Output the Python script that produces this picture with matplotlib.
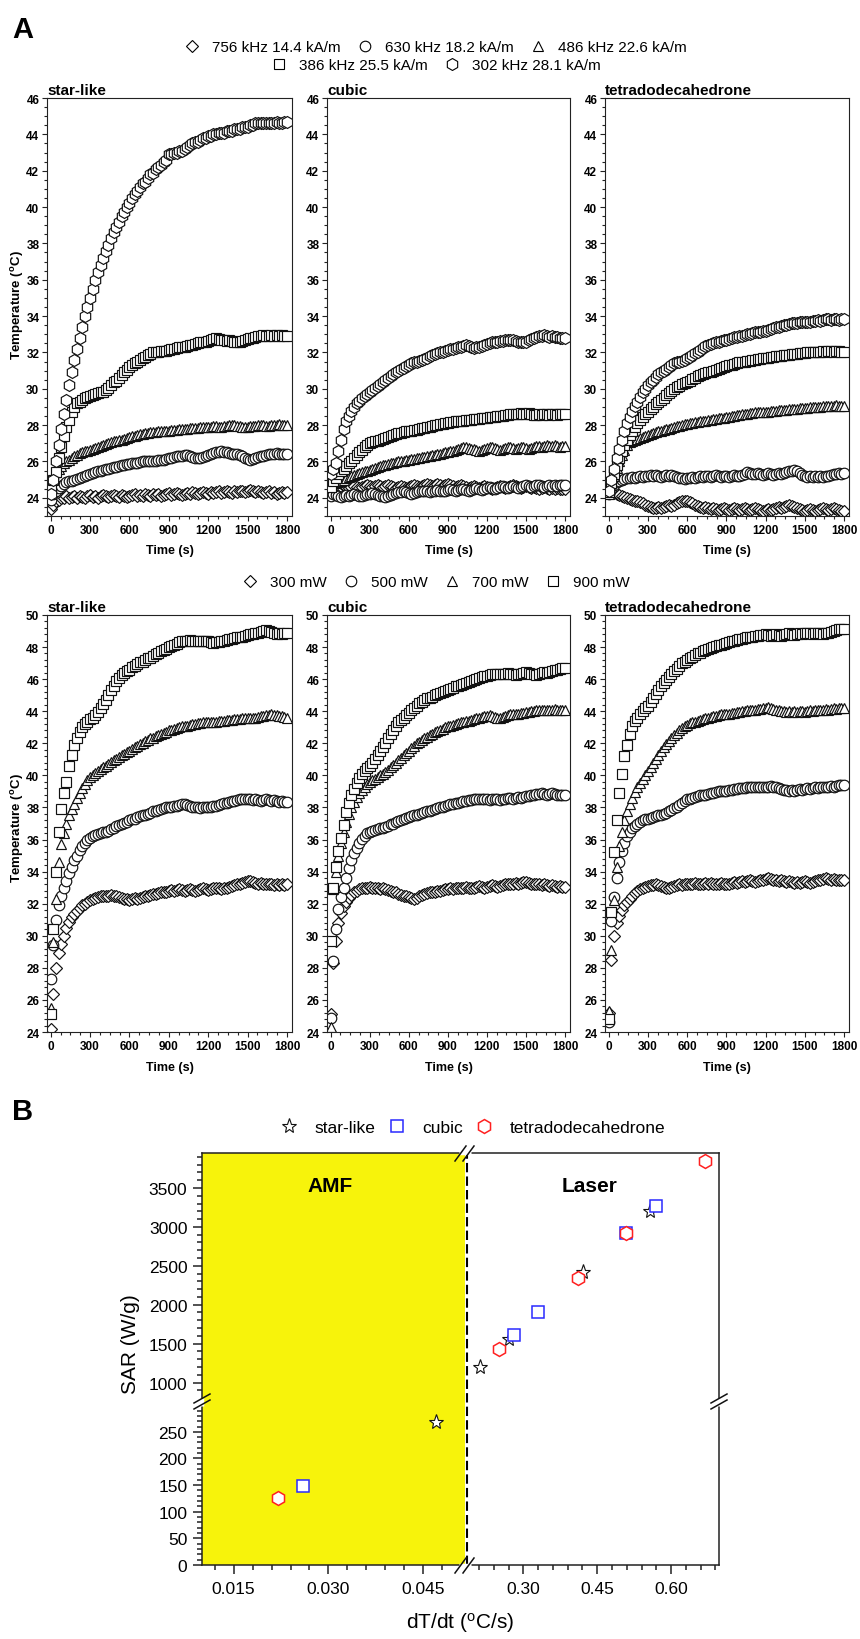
import numpy as np
import matplotlib
matplotlib.use("Agg")
import matplotlib.pyplot as plt
from matplotlib.lines import Line2D
from matplotlib.ticker import FixedLocator, MultipleLocator

plt.rcParams["font.family"] = ["Liberation Sans", "DejaVu Sans"]
plt.rcParams["mathtext.fontset"] = "custom"
plt.rcParams["mathtext.rm"] = "Liberation Sans"
plt.rcParams["mathtext.bf"] = "Liberation Sans:bold"
plt.rcParams["mathtext.it"] = "Liberation Sans:italic"

# ---------------------------------------------------------------- data
time_s = list(range(0, 1801, 20))

amf_labels = ["756 kHz 14.4 kA/m", "630 kHz 18.2 kA/m", "486 kHz 22.6 kA/m",
              "386 kHz 25.5 kA/m", "302 kHz 28.1 kA/m"]
laser_labels = ["300 mW", "500 mW", "700 mW", "900 mW"]
shapes = ["star-like", "cubic", "tetradodecahedrone"]

# AMF heating, star-like
amf_star_756 = [23.4, 23.6, 23.8, 23.9, 24.0, 24.0, 24.1, 24.0, 24.05, 24.1,
                24.0, 24.1, 24.05, 24.0, 24.1, 24.15, 24.05, 24.1, 24.0, 24.1,
                24.15, 24.1, 24.05, 24.1, 24.15, 24.1, 24.05, 24.15, 24.1, 24.05,
                24.1, 24.15, 24.2, 24.1, 24.15, 24.1, 24.2, 24.15, 24.1, 24.2,
                24.15, 24.2, 24.1, 24.15, 24.2, 24.25, 24.15, 24.2, 24.25, 24.2,
                24.15, 24.2, 24.25, 24.2, 24.3, 24.25, 24.2, 24.25, 24.3, 24.25,
                24.2, 24.3, 24.25, 24.3, 24.35, 24.25, 24.3, 24.35, 24.3, 24.25,
                24.35, 24.3, 24.4, 24.35, 24.3, 24.4, 24.45, 24.35, 24.3, 24.35,
                24.3, 24.25, 24.3, 24.35, 24.25, 24.3, 24.2, 24.25, 24.3, 24.25,
                24.3]
amf_star_630 = [23.9, 24.2, 24.4, 24.55, 24.65, 24.75, 24.85, 24.9, 24.95, 25.0,
                25.05, 25.1, 25.15, 25.2, 25.25, 25.3, 25.35, 25.4, 25.45, 25.5,
                25.55, 25.6, 25.6, 25.65, 25.7, 25.7, 25.75, 25.8, 25.8, 25.85,
                25.85, 25.9, 25.9, 25.9, 25.95, 26.0, 26.0, 26.0, 26.0, 26.05,
                26.05, 26.1, 26.1, 26.1, 26.15, 26.2, 26.2, 26.25, 26.3, 26.3,
                26.3, 26.35, 26.35, 26.3, 26.25, 26.2, 26.2, 26.2, 26.25, 26.3,
                26.35, 26.4, 26.45, 26.5, 26.5, 26.55, 26.5, 26.5, 26.45, 26.4,
                26.4, 26.4, 26.35, 26.3, 26.2, 26.15, 26.1, 26.15, 26.2, 26.25,
                26.3, 26.3, 26.35, 26.4, 26.4, 26.4, 26.45, 26.4, 26.4, 26.4,
                26.4]
amf_star_486 = [24.8, 25.1, 25.4, 25.6, 25.75, 25.9, 26.0, 26.1, 26.2, 26.3,
                26.35, 26.45, 26.5, 26.55, 26.6, 26.65, 26.7, 26.75, 26.8, 26.85,
                26.9, 26.95, 27.0, 27.05, 27.1, 27.15, 27.2, 27.2, 27.25, 27.3,
                27.35, 27.4, 27.4, 27.45, 27.5, 27.5, 27.55, 27.55, 27.6, 27.6,
                27.6, 27.65, 27.65, 27.7, 27.7, 27.7, 27.75, 27.75, 27.75, 27.8,
                27.8, 27.8, 27.8, 27.85, 27.85, 27.85, 27.85, 27.9, 27.9, 27.9,
                27.9, 27.9, 27.95, 27.95, 27.9, 27.9, 27.95, 27.95, 28.0, 28.0,
                28.0, 27.95, 27.95, 27.9, 27.9, 27.9, 27.95, 27.95, 27.95, 28.0,
                28.0, 28.0, 27.95, 27.95, 28.0, 28.0, 28.0, 28.05, 28.0, 28.0,
                28.0]
amf_star_386 = [24.5, 25.0, 25.4, 26.2, 26.8, 27.4, 27.9, 28.3, 28.7, 29.0,
                29.2, 29.3, 29.4, 29.5, 29.55, 29.6, 29.65, 29.7, 29.75, 29.8,
                29.85, 29.95, 30.05, 30.2, 30.35, 30.45, 30.6, 30.75, 30.9, 31.05,
                31.2, 31.3, 31.4, 31.5, 31.6, 31.7, 31.75, 31.85, 31.9, 32.0,
                32.0, 32.05, 32.1, 32.1, 32.1, 32.15, 32.2, 32.2, 32.25, 32.3,
                32.3, 32.3, 32.35, 32.4, 32.4, 32.45, 32.5, 32.55, 32.6, 32.6,
                32.65, 32.7, 32.75, 32.8, 32.75, 32.7, 32.7, 32.65, 32.7, 32.65,
                32.6, 32.6, 32.6, 32.65, 32.7, 32.75, 32.8, 32.8, 32.85, 32.9,
                32.9, 32.95, 32.9, 32.9, 32.95, 32.9, 32.95, 32.9, 32.95, 32.9,
                32.9]
amf_star_302 = [24.2, 25.0, 26.0, 26.9, 27.8, 28.6, 29.4, 30.2, 30.9, 31.6,
                32.2, 32.8, 33.4, 34.0, 34.5, 35.0, 35.5, 36.0, 36.4, 36.8,
                37.2, 37.6, 37.9, 38.3, 38.6, 38.9, 39.2, 39.5, 39.7, 40.0,
                40.2, 40.5, 40.7, 40.9, 41.1, 41.3, 41.4, 41.6, 41.8, 41.9,
                42.1, 42.2, 42.3, 42.5, 42.6, 42.9, 42.9, 43.0, 43.0, 43.1,
                43.1, 43.2, 43.3, 43.4, 43.5, 43.6, 43.6, 43.7, 43.8, 43.8,
                43.9, 43.9, 44.0, 44.0, 44.1, 44.1, 44.1, 44.2, 44.2, 44.2,
                44.3, 44.3, 44.3, 44.4, 44.4, 44.4, 44.5, 44.5, 44.6, 44.6,
                44.6, 44.6, 44.6, 44.6, 44.6, 44.6, 44.7, 44.6, 44.6, 44.7,
                44.7]

# AMF heating, cubic
amf_cub_756 = [24.6, 24.5, 24.6, 24.55, 24.6, 24.65, 24.6, 24.55, 24.6, 24.65,
               24.6, 24.55, 24.6, 24.65, 24.7, 24.65, 24.6, 24.65, 24.7, 24.65,
               24.6, 24.65, 24.7, 24.65, 24.6, 24.55, 24.6, 24.65, 24.6, 24.55,
               24.6, 24.65, 24.7, 24.65, 24.6, 24.65, 24.7, 24.75, 24.7, 24.65,
               24.7, 24.75, 24.7, 24.65, 24.7, 24.75, 24.7, 24.65, 24.6, 24.65,
               24.7, 24.65, 24.6, 24.55, 24.6, 24.65, 24.6, 24.55, 24.6, 24.65,
               24.6, 24.55, 24.5, 24.55, 24.6, 24.65, 24.6, 24.55, 24.6, 24.65,
               24.7, 24.65, 24.6, 24.55, 24.6, 24.65, 24.6, 24.55, 24.6, 24.55,
               24.5, 24.55, 24.6, 24.55, 24.5, 24.55, 24.5, 24.55, 24.5, 24.5,
               24.5]
amf_cub_630 = [24.1, 24.2, 24.15, 24.1, 24.05, 24.1, 24.15, 24.1, 24.15, 24.2,
               24.15, 24.1, 24.1, 24.15, 24.2, 24.2, 24.25, 24.2, 24.15, 24.1,
               24.1, 24.05, 24.1, 24.15, 24.2, 24.25, 24.3, 24.3, 24.35, 24.3,
               24.25, 24.2, 24.25, 24.3, 24.35, 24.4, 24.4, 24.35, 24.3, 24.35,
               24.4, 24.45, 24.4, 24.35, 24.4, 24.45, 24.5, 24.45, 24.4, 24.45,
               24.5, 24.5, 24.45, 24.4, 24.45, 24.5, 24.55, 24.5, 24.45, 24.5,
               24.55, 24.6, 24.55, 24.5, 24.55, 24.6, 24.65, 24.6, 24.55, 24.6,
               24.65, 24.6, 24.55, 24.6, 24.65, 24.7, 24.65, 24.6, 24.65, 24.7,
               24.7, 24.65, 24.6, 24.65, 24.7, 24.65, 24.7, 24.65, 24.7, 24.7,
               24.7]
amf_cub_486 = [24.6, 24.7, 24.8, 24.85, 24.95, 25.0, 25.1, 25.15, 25.2, 25.25,
               25.3, 25.35, 25.4, 25.45, 25.5, 25.55, 25.6, 25.65, 25.7, 25.75,
               25.8, 25.8, 25.85, 25.9, 25.9, 25.95, 26.0, 26.0, 26.05, 26.1,
               26.1, 26.15, 26.15, 26.2, 26.2, 26.25, 26.25, 26.3, 26.3, 26.35,
               26.35, 26.4, 26.4, 26.45, 26.5, 26.5, 26.55, 26.6, 26.65, 26.7,
               26.75, 26.8, 26.8, 26.75, 26.7, 26.7, 26.65, 26.6, 26.65, 26.7,
               26.75, 26.8, 26.8, 26.75, 26.7, 26.65, 26.7, 26.75, 26.8, 26.8,
               26.75, 26.7, 26.75, 26.8, 26.8, 26.75, 26.7, 26.75, 26.8, 26.85,
               26.85, 26.8, 26.85, 26.9, 26.85, 26.85, 26.9, 26.85, 26.8, 26.85,
               26.85]
amf_cub_386 = [24.6, 24.9, 25.1, 25.3, 25.45, 25.6, 25.75, 25.9, 26.05, 26.2,
               26.35, 26.5, 26.65, 26.8, 26.9, 27.0, 27.05, 27.1, 27.15, 27.2,
               27.25, 27.3, 27.35, 27.4, 27.45, 27.5, 27.55, 27.55, 27.6, 27.65,
               27.7, 27.7, 27.75, 27.75, 27.8, 27.85, 27.85, 27.9, 27.9, 27.95,
               28.0, 28.0, 28.05, 28.05, 28.1, 28.1, 28.15, 28.15, 28.2, 28.2,
               28.25, 28.25, 28.3, 28.3, 28.3, 28.35, 28.35, 28.35, 28.4, 28.4,
               28.4, 28.45, 28.45, 28.45, 28.5, 28.5, 28.5, 28.55, 28.55, 28.6,
               28.6, 28.6, 28.6, 28.65, 28.6, 28.6, 28.65, 28.6, 28.55, 28.55,
               28.6, 28.55, 28.6, 28.6, 28.55, 28.6, 28.6, 28.55, 28.6, 28.6,
               28.6]
amf_cub_302 = [25.3, 25.6, 25.9, 26.6, 27.2, 27.8, 28.2, 28.5, 28.8, 29.0,
               29.2, 29.35, 29.5, 29.6, 29.7, 29.85, 29.95, 30.05, 30.15, 30.25,
               30.35, 30.5, 30.6, 30.7, 30.8, 30.9, 31.0, 31.1, 31.15, 31.25,
               31.3, 31.4, 31.45, 31.5, 31.55, 31.6, 31.65, 31.7, 31.8, 31.85,
               31.9, 31.95, 32.0, 32.05, 32.1, 32.15, 32.2, 32.2, 32.25, 32.3,
               32.3, 32.35, 32.4, 32.35, 32.3, 32.25, 32.3, 32.3, 32.35, 32.4,
               32.45, 32.5, 32.55, 32.6, 32.6, 32.65, 32.65, 32.7, 32.7, 32.7,
               32.7, 32.65, 32.6, 32.6, 32.55, 32.6, 32.7, 32.75, 32.8, 32.85,
               32.9, 32.9, 32.95, 32.9, 32.85, 32.9, 32.85, 32.85, 32.8, 32.8,
               32.8]

# AMF heating, tetradodecahedrone
amf_tet_756 = [24.4, 24.3, 24.25, 24.2, 24.15, 24.1, 24.05, 24.0, 23.95, 23.9,
               23.85, 23.8, 23.75, 23.7, 23.6, 23.55, 23.5, 23.45, 23.45, 23.5,
               23.45, 23.5, 23.55, 23.6, 23.55, 23.6, 23.7, 23.75, 23.8, 23.85,
               23.8, 23.75, 23.7, 23.6, 23.55, 23.5, 23.45, 23.5, 23.45, 23.4,
               23.45, 23.4, 23.35, 23.4, 23.45, 23.4, 23.35, 23.4, 23.45, 23.4,
               23.35, 23.4, 23.45, 23.4, 23.35, 23.4, 23.45, 23.4, 23.35, 23.3,
               23.35, 23.4, 23.35, 23.4, 23.45, 23.5, 23.45, 23.5, 23.55, 23.6,
               23.55, 23.5, 23.45, 23.4, 23.35, 23.3, 23.35, 23.4, 23.35, 23.3,
               23.35, 23.4, 23.45, 23.4, 23.35, 23.4, 23.45, 23.4, 23.35, 23.3,
               23.3]
amf_tet_630 = [24.2, 24.5, 24.7, 24.85, 24.95, 25.0, 25.05, 25.1, 25.1, 25.15,
               25.1, 25.15, 25.2, 25.15, 25.2, 25.2, 25.25, 25.2, 25.25, 25.2,
               25.15, 25.2, 25.25, 25.2, 25.25, 25.2, 25.15, 25.1, 25.1, 25.05,
               25.1, 25.1, 25.15, 25.1, 25.15, 25.2, 25.15, 25.2, 25.2, 25.15,
               25.2, 25.25, 25.2, 25.15, 25.2, 25.2, 25.15, 25.2, 25.25, 25.2,
               25.2, 25.25, 25.3, 25.4, 25.35, 25.3, 25.3, 25.35, 25.3, 25.25,
               25.3, 25.35, 25.3, 25.25, 25.3, 25.35, 25.3, 25.35, 25.4, 25.45,
               25.5, 25.55, 25.5, 25.35, 25.25, 25.2, 25.15, 25.2, 25.15, 25.2,
               25.15, 25.2, 25.15, 25.2, 25.2, 25.25, 25.3, 25.3, 25.35, 25.3,
               25.35]
amf_tet_486 = [24.2, 24.7, 25.2, 25.65, 26.0, 26.35, 26.65, 26.9, 27.05, 27.15,
               27.2, 27.25, 27.3, 27.35, 27.4, 27.45, 27.5, 27.55, 27.6, 27.65,
               27.7, 27.75, 27.8, 27.8, 27.85, 27.9, 27.95, 27.95, 28.0, 28.05,
               28.05, 28.1, 28.1, 28.15, 28.15, 28.2, 28.2, 28.25, 28.3, 28.3,
               28.35, 28.35, 28.4, 28.4, 28.4, 28.45, 28.45, 28.5, 28.5, 28.55,
               28.55, 28.6, 28.6, 28.6, 28.65, 28.65, 28.7, 28.7, 28.7, 28.75,
               28.75, 28.75, 28.8, 28.8, 28.8, 28.85, 28.85, 28.85, 28.85, 28.9,
               28.9, 28.9, 28.9, 28.95, 28.95, 28.95, 28.95, 29.0, 29.0, 29.0,
               29.0, 29.0, 29.05, 29.05, 29.05, 29.05, 29.05, 29.1, 29.05, 29.05,
               29.05]
amf_tet_386 = [24.3, 24.8, 25.3, 25.8, 26.2, 26.55, 26.9, 27.2, 27.45, 27.7,
               27.9, 28.1, 28.3, 28.45, 28.6, 28.75, 28.9, 29.0, 29.15, 29.3,
               29.4, 29.5, 29.65, 29.75, 29.9, 30.0, 30.1, 30.15, 30.25, 30.3,
               30.4, 30.45, 30.55, 30.6, 30.7, 30.75, 30.8, 30.85, 30.9, 30.95,
               31.0, 31.05, 31.1, 31.15, 31.2, 31.25, 31.3, 31.3, 31.35, 31.4,
               31.45, 31.45, 31.5, 31.55, 31.55, 31.6, 31.6, 31.65, 31.65, 31.7,
               31.7, 31.7, 31.75, 31.75, 31.8, 31.8, 31.8, 31.85, 31.85, 31.85,
               31.9, 31.9, 31.9, 31.95, 31.95, 31.95, 32.0, 32.0, 32.0, 32.05,
               32.05, 32.05, 32.1, 32.05, 32.1, 32.1, 32.05, 32.1, 32.1, 32.05,
               32.05]
amf_tet_302 = [24.4, 25.0, 25.6, 26.2, 26.7, 27.2, 27.7, 28.1, 28.45, 28.8,
               29.05, 29.3, 29.55, 29.8, 30.0, 30.2, 30.35, 30.5, 30.65, 30.8,
               30.9, 31.0, 31.1, 31.2, 31.3, 31.4, 31.45, 31.5, 31.55, 31.6,
               31.7, 31.75, 31.85, 31.95, 32.05, 32.15, 32.25, 32.35, 32.4, 32.45,
               32.5, 32.55, 32.6, 32.65, 32.7, 32.7, 32.75, 32.8, 32.85, 32.85,
               32.9, 32.9, 32.95, 33.0, 33.0, 33.05, 33.1, 33.1, 33.15, 33.2,
               33.2, 33.25, 33.3, 33.35, 33.4, 33.4, 33.45, 33.5, 33.5, 33.55,
               33.6, 33.6, 33.6, 33.65, 33.65, 33.7, 33.7, 33.7, 33.75, 33.75,
               33.8, 33.75, 33.8, 33.85, 33.85, 33.8, 33.85, 33.85, 33.8, 33.85,
               33.85]

# Laser heating, star-like
las_star_300 = [24.2, 26.4, 28.0, 28.9, 29.5, 30.0, 30.5, 30.85, 31.15, 31.35,
                31.55, 31.75, 31.9, 32.0, 32.1, 32.2, 32.3, 32.35, 32.4, 32.45,
                32.5, 32.45, 32.5, 32.55, 32.5, 32.45, 32.4, 32.35, 32.3, 32.3,
                32.25, 32.3, 32.35, 32.3, 32.35, 32.4, 32.45, 32.5, 32.55, 32.6,
                32.6, 32.65, 32.7, 32.7, 32.75, 32.8, 32.85, 32.8, 32.85, 32.9,
                32.85, 32.8, 32.85, 32.9, 32.85, 32.8, 32.85, 32.9, 32.95, 32.9,
                32.85, 32.9, 32.95, 33.0, 32.95, 32.9, 32.95, 33.0, 33.05, 33.1,
                33.15, 33.2, 33.25, 33.3, 33.35, 33.4, 33.4, 33.35, 33.3, 33.25,
                33.3, 33.25, 33.2, 33.25, 33.2, 33.15, 33.2, 33.15, 33.2, 33.15,
                33.2]
las_star_500 = [27.3, 29.4, 31.0, 31.9, 32.5, 33.0, 33.4, 33.9, 34.3, 34.7,
                35.0, 35.35, 35.6, 35.8, 36.0, 36.1, 36.2, 36.3, 36.35, 36.4,
                36.45, 36.5, 36.55, 36.65, 36.75, 36.85, 36.9, 36.95, 37.05, 37.1,
                37.2, 37.25, 37.3, 37.4, 37.45, 37.5, 37.55, 37.6, 37.65, 37.75,
                37.8, 37.85, 37.9, 37.95, 38.0, 38.0, 38.05, 38.1, 38.1, 38.15,
                38.2, 38.2, 38.15, 38.1, 38.05, 38.0, 38.0, 37.95, 38.0, 38.05,
                38.0, 38.05, 38.1, 38.1, 38.15, 38.2, 38.25, 38.3, 38.35, 38.4,
                38.4, 38.45, 38.5, 38.5, 38.55, 38.5, 38.5, 38.45, 38.5, 38.45,
                38.4, 38.45, 38.5, 38.45, 38.4, 38.45, 38.4, 38.35, 38.4, 38.35,
                38.35]
las_star_700 = [25.5, 29.6, 32.3, 34.6, 35.7, 36.4, 37.0, 37.5, 37.9, 38.2,
                38.6, 38.9, 39.2, 39.45, 39.7, 39.9, 40.05, 40.15, 40.3, 40.4,
                40.5, 40.6, 40.7, 40.85, 40.95, 41.05, 41.15, 41.25, 41.35, 41.45,
                41.55, 41.65, 41.75, 41.85, 41.95, 42.05, 42.15, 42.2, 42.3, 42.35,
                42.45, 42.5, 42.6, 42.65, 42.7, 42.8, 42.85, 42.9, 42.95, 43.0,
                43.05, 43.1, 43.1, 43.15, 43.2, 43.2, 43.25, 43.25, 43.3, 43.3,
                43.3, 43.35, 43.35, 43.35, 43.4, 43.4, 43.4, 43.45, 43.45, 43.45,
                43.5, 43.5, 43.5, 43.55, 43.55, 43.55, 43.6, 43.6, 43.6, 43.65,
                43.7, 43.7, 43.75, 43.75, 43.8, 43.75, 43.75, 43.7, 43.7, 43.65,
                43.6]
las_star_900 = [25.1, 30.4, 34.0, 36.5, 37.9, 38.9, 39.6, 40.6, 41.3, 41.9,
                42.3, 42.7, 43.0, 43.2, 43.35, 43.5, 43.6, 43.75, 43.95, 44.2,
                44.45, 44.7, 45.0, 45.3, 45.6, 45.9, 46.1, 46.25, 46.4, 46.5,
                46.6, 46.75, 46.85, 46.95, 47.05, 47.1, 47.2, 47.3, 47.35, 47.45,
                47.55, 47.65, 47.75, 47.8, 47.9, 48.0, 48.05, 48.15, 48.2, 48.3,
                48.35, 48.4, 48.4, 48.45, 48.4, 48.35, 48.4, 48.4, 48.35, 48.4,
                48.35, 48.3, 48.25, 48.3, 48.3, 48.35, 48.4, 48.45, 48.5, 48.5,
                48.55, 48.6, 48.6, 48.65, 48.7, 48.75, 48.8, 48.8, 48.85, 48.9,
                48.95, 49.0, 49.05, 49.0, 48.95, 48.85, 48.8, 48.85, 48.8, 48.85,
                48.85]

# Laser heating, cubic
las_cub_300 = [25.1, 28.3, 29.7, 30.8, 31.4, 31.85, 32.1, 32.35, 32.55, 32.7,
               32.8, 32.9, 32.95, 33.0, 33.0, 33.05, 33.0, 33.0, 32.95, 32.9,
               32.95, 32.9, 32.85, 32.8, 32.75, 32.7, 32.6, 32.55, 32.5, 32.45,
               32.4, 32.35, 32.3, 32.35, 32.45, 32.55, 32.6, 32.65, 32.7, 32.7,
               32.75, 32.8, 32.8, 32.85, 32.9, 32.9, 32.95, 32.9, 32.95, 33.0,
               32.95, 33.0, 33.05, 33.0, 32.95, 33.0, 33.05, 33.1, 33.05, 33.0,
               33.05, 33.1, 33.15, 33.1, 33.05, 33.1, 33.15, 33.2, 33.25, 33.2,
               33.25, 33.3, 33.25, 33.3, 33.35, 33.35, 33.3, 33.25, 33.2, 33.25,
               33.2, 33.15, 33.2, 33.15, 33.1, 33.15, 33.1, 33.05, 33.1, 33.05,
               33.05]
las_cub_500 = [24.9, 28.4, 30.4, 31.7, 32.4, 33.0, 33.6, 34.2, 34.7, 35.15,
               35.5, 35.8, 36.05, 36.25, 36.4, 36.5, 36.55, 36.6, 36.65, 36.7,
               36.75, 36.8, 36.85, 36.95, 37.0, 37.1, 37.15, 37.2, 37.3, 37.35,
               37.4, 37.45, 37.5, 37.55, 37.6, 37.65, 37.7, 37.75, 37.8, 37.85,
               37.9, 37.95, 38.0, 38.05, 38.1, 38.15, 38.2, 38.2, 38.25, 38.3,
               38.35, 38.4, 38.4, 38.45, 38.45, 38.5, 38.5, 38.5, 38.55, 38.5,
               38.5, 38.45, 38.5, 38.55, 38.5, 38.45, 38.5, 38.55, 38.6, 38.6,
               38.55, 38.6, 38.65, 38.6, 38.65, 38.7, 38.7, 38.75, 38.8, 38.85,
               38.85, 38.9, 38.85, 38.8, 38.85, 38.9, 38.85, 38.8, 38.8, 38.8,
               38.8]
las_cub_700 = [24.3, 32.9, 34.0, 35.0, 35.8, 36.5, 37.1, 37.6, 38.0, 38.35,
               38.65, 38.9, 39.1, 39.3, 39.45, 39.6, 39.7, 39.8, 39.9, 40.0,
               40.1, 40.2, 40.35, 40.5, 40.65, 40.8, 40.95, 41.1, 41.25, 41.4,
               41.55, 41.7, 41.85, 42.0, 42.1, 42.2, 42.3, 42.4, 42.5, 42.6,
               42.7, 42.75, 42.85, 42.9, 43.0, 43.05, 43.1, 43.15, 43.2, 43.25,
               43.3, 43.35, 43.4, 43.4, 43.45, 43.5, 43.55, 43.6, 43.65, 43.7,
               43.7, 43.75, 43.7, 43.65, 43.6, 43.6, 43.65, 43.7, 43.75, 43.8,
               43.8, 43.85, 43.85, 43.9, 43.9, 43.95, 43.95, 44.0, 44.0, 44.05,
               44.05, 44.1, 44.1, 44.05, 44.1, 44.1, 44.15, 44.1, 44.1, 44.05,
               44.1]
las_cub_900 = [29.7, 33.0, 34.3, 35.3, 36.1, 36.9, 37.7, 38.3, 38.8, 39.15,
               39.55, 39.85, 40.1, 40.3, 40.45, 40.6, 40.8, 41.0, 41.25, 41.5,
               41.75, 42.0, 42.3, 42.55, 42.8, 43.05, 43.3, 43.45, 43.6, 43.75,
               43.9, 44.05, 44.2, 44.35, 44.5, 44.6, 44.7, 44.8, 44.85, 44.9,
               45.0, 45.05, 45.15, 45.2, 45.25, 45.3, 45.4, 45.45, 45.55, 45.6,
               45.65, 45.7, 45.75, 45.8, 45.9, 45.95, 46.0, 46.1, 46.15, 46.2,
               46.2, 46.25, 46.3, 46.3, 46.35, 46.35, 46.3, 46.35, 46.4, 46.35,
               46.3, 46.25, 46.3, 46.35, 46.4, 46.45, 46.4, 46.35, 46.3, 46.25,
               46.3, 46.4, 46.45, 46.4, 46.45, 46.5, 46.55, 46.6, 46.65, 46.7,
               46.7]

# Laser heating, tetradodecahedrone
las_tet_300 = [25.2, 28.5, 30.0, 30.8, 31.25, 31.6, 31.9, 32.1, 32.3, 32.5,
               32.65, 32.8, 32.9, 33.0, 33.05, 33.1, 33.15, 33.15, 33.2, 33.15,
               33.1, 33.05, 33.0, 33.0, 33.05, 33.1, 33.15, 33.2, 33.15, 33.2,
               33.25, 33.2, 33.25, 33.3, 33.25, 33.2, 33.25, 33.3, 33.25, 33.3,
               33.25, 33.2, 33.25, 33.3, 33.25, 33.2, 33.25, 33.3, 33.35, 33.3,
               33.35, 33.4, 33.35, 33.4, 33.45, 33.4, 33.35, 33.4, 33.45, 33.5,
               33.55, 33.6, 33.55, 33.5, 33.45, 33.4, 33.45, 33.4, 33.35, 33.4,
               33.35, 33.3, 33.35, 33.3, 33.35, 33.4, 33.35, 33.3, 33.35, 33.4,
               33.45, 33.5, 33.55, 33.6, 33.55, 33.5, 33.55, 33.5, 33.5, 33.45,
               33.5]
las_tet_500 = [24.6, 30.9, 32.4, 33.6, 34.6, 35.3, 35.8, 36.2, 36.5, 36.7,
               36.85, 37.0, 37.1, 37.2, 37.25, 37.3, 37.35, 37.4, 37.45, 37.5,
               37.55, 37.6, 37.65, 37.75, 37.85, 37.95, 38.05, 38.15, 38.3, 38.4,
               38.5, 38.55, 38.6, 38.65, 38.7, 38.75, 38.8, 38.8, 38.85, 38.9,
               38.9, 38.95, 39.0, 39.0, 39.05, 39.05, 39.1, 39.1, 39.15, 39.15,
               39.2, 39.2, 39.2, 39.25, 39.25, 39.25, 39.3, 39.3, 39.25, 39.3,
               39.25, 39.3, 39.35, 39.3, 39.25, 39.2, 39.15, 39.1, 39.1, 39.05,
               39.1, 39.05, 39.1, 39.15, 39.1, 39.15, 39.2, 39.15, 39.2, 39.25,
               39.2, 39.25, 39.3, 39.25, 39.3, 39.35, 39.3, 39.35, 39.4, 39.4,
               39.4]
las_tet_700 = [25.3, 29.1, 32.2, 34.3, 35.6, 36.5, 37.2, 37.75, 38.2, 38.6,
               38.95, 39.25, 39.55, 39.8, 40.05, 40.3, 40.55, 40.8, 41.05, 41.3,
               41.55, 41.75, 41.95, 42.15, 42.35, 42.5, 42.65, 42.8, 42.95, 43.05,
               43.15, 43.25, 43.3, 43.35, 43.4, 43.45, 43.5, 43.55, 43.6, 43.65,
               43.7, 43.7, 43.75, 43.8, 43.8, 43.85, 43.85, 43.9, 43.9, 43.95,
               43.95, 44.0, 44.0, 44.05, 44.05, 44.1, 44.1, 44.15, 44.15, 44.2,
               44.2, 44.25, 44.2, 44.15, 44.1, 44.05, 44.0, 44.0, 43.95, 44.0,
               43.95, 44.0, 43.95, 44.0, 44.0, 43.95, 44.0, 44.05, 44.0, 44.05,
               44.1, 44.05, 44.1, 44.15, 44.1, 44.15, 44.2, 44.15, 44.2, 44.2,
               44.2]
las_tet_900 = [24.8, 31.5, 35.2, 37.2, 38.9, 40.1, 41.2, 41.9, 42.6, 43.1,
               43.4, 43.6, 43.8, 44.0, 44.2, 44.35, 44.55, 44.8, 45.05, 45.3,
               45.55, 45.75, 45.95, 46.15, 46.35, 46.5, 46.65, 46.8, 47.0, 47.1,
               47.2, 47.3, 47.4, 47.5, 47.6, 47.65, 47.75, 47.8, 47.9, 47.95,
               48.0, 48.05, 48.1, 48.15, 48.2, 48.25, 48.3, 48.35, 48.4, 48.45,
               48.5, 48.5, 48.55, 48.6, 48.6, 48.65, 48.7, 48.7, 48.75, 48.75,
               48.8, 48.75, 48.7, 48.75, 48.8, 48.75, 48.7, 48.75, 48.8, 48.85,
               48.8, 48.75, 48.8, 48.85, 48.8, 48.85, 48.9, 48.85, 48.8, 48.85,
               48.9, 48.85, 48.8, 48.85, 48.9, 48.95, 49.0, 49.05, 49.1, 49.1,
               49.1]

# SAR against initial heating rate (first AMF point, then laser points)
star_dtdt = [0.047, 0.211, 0.270, 0.421, 0.557]
star_sar = [269, 1200, 1555, 2420, 3210]
cubic_dtdt = [0.026, 0.280, 0.330, 0.509, 0.570]
cubic_sar = [149, 1605, 1900, 2920, 3270]
tetra_dtdt = [0.022, 0.250, 0.410, 0.509, 0.669]
tetra_sar = [126, 1435, 2345, 2920, 3840]

# ---------------------------------------------------------------- figure
W, H = 860, 1640
fig = plt.figure(figsize=(W / 100, H / 100), dpi=100)


def box(l, t, r, b):
    return [l / W, 1 - b / H, (r - l) / W, (b - t) / H]


def fx(x):
    return x / W


def fy(y):
    return 1 - y / H


amf_style = [("D", 6.0), ("o", 7.6), ("^", 7.8), ("s", 6.9), ("h", 8.6)]
laser_style = [("D", 6.0), ("o", 7.6), ("^", 7.8), ("s", 6.9)]

amf_data = [[amf_star_756, amf_star_630, amf_star_486, amf_star_386, amf_star_302],
            [amf_cub_756, amf_cub_630, amf_cub_486, amf_cub_386, amf_cub_302],
            [amf_tet_756, amf_tet_630, amf_tet_486, amf_tet_386, amf_tet_302]]
laser_data = [[las_star_300, las_star_500, las_star_700, las_star_900],
              [las_cub_300, las_cub_500, las_cub_700, las_cub_900],
              [las_tet_300, las_tet_500, las_tet_700, las_tet_900]]

col_x = [(47, 292), (327, 570), (605, 849)]
rows = [dict(top=99, bottom=517, ylim=(23, 46), yticks=range(24, 47, 2),
             yminor=0.5, data=amf_data, style=amf_style, tlabel=551, ylab=305),
        dict(top=616, bottom=1033, ylim=(24, 50), yticks=range(24, 51, 2),
             yminor=0.4, data=laser_data, style=laser_style, tlabel=1068, ylab=828)]

for row in rows:
    for c, (l, r) in enumerate(col_x):
        ax = fig.add_axes(box(l, row["top"], r, row["bottom"]))
        for vals, (m, ms) in zip(row["data"][c], row["style"]):
            ax.plot(time_s, vals, linestyle="none", marker=m, ms=ms,
                    mfc="white", mec="#111111", mew=0.85)
        ax.set_xlim(-28, 1838)
        ax.set_ylim(*row["ylim"])
        xt = list(range(0, 1801, 300))
        ax.set_xticks(xt, [str(v) for v in xt], fontweight="bold", fontsize=8.5)
        yt = list(row["yticks"])
        ax.set_yticks(yt, [str(v) for v in yt], fontweight="bold", fontsize=8.5)
        ax.xaxis.set_minor_locator(MultipleLocator(75))
        ax.yaxis.set_minor_locator(MultipleLocator(row["yminor"]))
        ax.tick_params(which="both", direction="out", top=False, right=False,
                       width=0.8, color="#222222", pad=2)
        ax.tick_params(which="major", length=3.5)
        ax.tick_params(which="minor", length=2)
        for s in ax.spines.values():
            s.set_linewidth(0.8)
            s.set_color("#222222")
        ax.annotate(shapes[c], xy=(0, 1), xycoords="axes fraction",
                    xytext=(0, 4), textcoords="offset pixels",
                    ha="left", va="baseline", fontsize=11, fontweight="bold")
        fig.text(fx((l + r) / 2), fy(row["tlabel"]), "Time (s)", ha="center",
                 va="center", fontsize=9, fontweight="bold")
    fig.text(fx(17), fy(row["ylab"]), r"Temperature ($\mathbf{^o}$C)",
             rotation=90, ha="center", va="center", fontsize=9.5, fontweight="bold")


def marker_handle(m, ms, mec="black", mew=0.8):
    return Line2D([], [], linestyle="none", marker=m, ms=ms, mfc="white",
                  mec=mec, mew=mew)


amf_handles = [marker_handle(m, ms) for m, ms in amf_style]
leg_kw = dict(loc="center", frameon=False, fontsize=11, handlelength=0.8,
              handletextpad=0.9, columnspacing=1.2, borderpad=0, borderaxespad=0)
fig.legend(amf_handles[:3], amf_labels[:3], ncol=3,
           bbox_to_anchor=(fx(436), fy(48)), **leg_kw)
fig.legend(amf_handles[3:], amf_labels[3:], ncol=2,
           bbox_to_anchor=(fx(437), fy(66)), **leg_kw)
fig.legend([marker_handle(m, ms) for m, ms in laser_style], laser_labels, ncol=4,
           bbox_to_anchor=(fx(437), fy(583)), **leg_kw)

fig.text(fx(12), fy(38), "A", fontsize=21, fontweight="bold", ha="left", va="baseline")
fig.text(fx(12), fy(1120), "B", fontsize=21, fontweight="bold", ha="left", va="baseline")

# ---------------------------------------------------------------- panel B
B_L, B_T, B_R, B_B = 202, 1154, 719, 1566
axb = fig.add_axes(box(B_L, B_T, B_R, B_B))

X_DATA = [0.010, 0.0516, 0.1824, 0.6973]
X_PIX = [0.0, 263.0, 263.5, 517.0]
Y_DATA = [0.0, 306.0, 756.0, 3949.0]
Y_PIX = [0.0, 163.0, 163.5, 412.0]

axb.set_xscale("function", functions=(lambda v: np.interp(v, X_DATA, X_PIX),
                                      lambda u: np.interp(u, X_PIX, X_DATA)))
axb.set_yscale("function", functions=(lambda v: np.interp(v, Y_DATA, Y_PIX),
                                      lambda u: np.interp(u, Y_PIX, Y_DATA)))
axb.set_xlim(X_DATA[0], X_DATA[-1])
axb.set_ylim(Y_DATA[0], Y_DATA[-1])

axb.axvspan(X_DATA[0], X_DATA[1], color="#f7f30b", lw=0, zorder=0)
axb.axvline(0.186, color="black", lw=1.5, ls=(0, (4.5, 2.0)), zorder=1)

axb.plot(star_dtdt, star_sar, linestyle="none", marker="*", ms=11,
         mfc="white", mec="#111111", mew=0.8, zorder=3)
axb.plot(cubic_dtdt, cubic_sar, linestyle="none", marker="s", ms=8,
         mfc="white", mec="#2a2aff", mew=1.1, zorder=4)
axb.plot(tetra_dtdt, tetra_sar, linestyle="none", marker="h", ms=10,
         mfc="white", mec="#ff2020", mew=1.1, zorder=5)

xmaj = [0.015, 0.030, 0.045, 0.30, 0.45, 0.60]
axb.xaxis.set_major_locator(FixedLocator(xmaj))
axb.set_xticklabels(["0.015", "0.030", "0.045", "0.30", "0.45", "0.60"])
xmin_ticks = [0.012, 0.018, 0.021, 0.024, 0.027, 0.033, 0.036, 0.039, 0.042, 0.048,
              0.21, 0.24, 0.27, 0.33, 0.36, 0.39, 0.42, 0.48, 0.51, 0.54, 0.57,
              0.63, 0.66, 0.69]
axb.xaxis.set_minor_locator(FixedLocator(xmin_ticks))
ymaj = [0, 50, 100, 150, 200, 250, 1000, 1500, 2000, 2500, 3000, 3500]
axb.yaxis.set_major_locator(FixedLocator(ymaj))
axb.set_yticklabels([str(v) for v in ymaj])
ymin_ticks = [v for v in range(10, 300, 10) if v % 50] + \
             [v for v in range(900, 3950, 100) if v % 500]
axb.yaxis.set_minor_locator(FixedLocator(ymin_ticks))
axb.tick_params(which="both", direction="out", top=False, right=False,
                width=1.1, color="#222222", labelsize=12.5)
axb.tick_params(axis="x", which="major", length=6.5, pad=5)
axb.tick_params(axis="y", which="major", length=6.5, pad=4)
axb.tick_params(which="minor", length=3.5)
for s in axb.spines.values():
    s.set_linewidth(1.1)
    s.set_color("#222222")

axb.text((330 - B_L) / (B_R - B_L), (B_B - 1187) / (B_B - B_T), "AMF",
         transform=axb.transAxes, ha="center", va="center", fontsize=15,
         fontweight="bold")
axb.text((590 - B_L) / (B_R - B_L), (B_B - 1187) / (B_B - B_T), "Laser",
         transform=axb.transAxes, ha="center", va="center", fontsize=15,
         fontweight="bold")

fig.text(fx(130), fy(1344), "SAR (W/g)", rotation=90, ha="center", va="center",
         fontsize=15)
fig.text(fx(460), fy(1623), r"dT/dt ($^{\rm o}$C/s)", ha="center", va="center",
         fontsize=15)


def fig_line(xs, ys, **kw):
    fig.add_artist(Line2D([fx(v) for v in xs], [fy(v) for v in ys],
                          transform=fig.transFigure, **kw))


# axis-break marks
brk = dict(color="#111111", lw=1.1, zorder=20)
gap = dict(color="white", lw=2.5, zorder=19, solid_capstyle="butt")
for yb in (B_T, B_B):
    fig_line([459, 471], [yb, yb], **gap)
    fig_line([455, 466], [yb + 8, yb - 7], **brk)
    fig_line([463, 474], [yb + 8, yb - 7], **brk)
for xb in (B_L, B_R):
    fig_line([xb, xb], [1399, 1407], **gap)
    fig_line([xb - 8, xb + 8], [1410, 1401], **brk)
    fig_line([xb - 8, xb + 8], [1404, 1395], **brk)

b_handles = [Line2D([], [], linestyle="none", marker="*", ms=11, mfc="white",
                    mec="#111111", mew=0.8),
             Line2D([], [], linestyle="none", marker="s", ms=8, mfc="white",
                    mec="#2a2aff", mew=1.1),
             Line2D([], [], linestyle="none", marker="h", ms=10, mfc="white",
                    mec="#ff2020", mew=1.1)]
fig.legend(b_handles, shapes, ncol=3, loc="center", frameon=False, fontsize=12.5,
           handlelength=1.0, handletextpad=1.0, columnspacing=0.7, borderpad=0,
           borderaxespad=0, bbox_to_anchor=(fx(473), fy(1128)))

fig.savefig("out.png", dpi=100)
